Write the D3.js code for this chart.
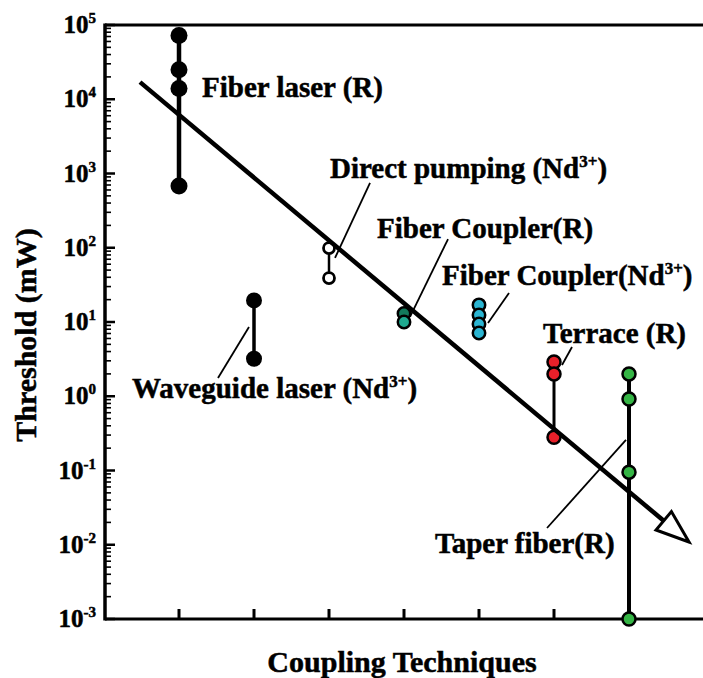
<!DOCTYPE html>
<html>
<head>
	<title>Threshold vs Coupling Techniques</title>
	<script src="https://d3js.org/d3.v7.min.js" charset="utf-8"></script>
	<style>
		body { margin: 0; background: #fff; }
		text { font-family: "Liberation Serif", "Times New Roman", "DejaVu Serif", serif; font-weight: bold; fill: #000; stroke: #000; stroke-width: 0.5; }
	</style>
</head>
<body>
	<svg width="703" height="678"></svg>
	<script>
		// categories along x (index 0..6)
		const categories = ["Fiber laser (R)", "Waveguide laser (Nd3+)", "Direct pumping (Nd3+)",
			"Fiber Coupler(R)", "Fiber Coupler(Nd3+)", "Terrace (R)", "Taper fiber(R)"];

		// threshold values in mW
		const fiberLaser = [72000, 25000, 14000, 680];
		const waveguide = [19.5, 3.2];
		const directPumping = [99, 39];
		const couplerR = [13, 10];
		const couplerNd = [17, 12.4, 9.4, 7.1];
		const terrace = [2.9, 2.0, 0.28];
		const taperFiber = [2.0, 0.92, 0.095, 0.001];

		const yTickExps = [5, 4, 3, 2, 1, 0, -1, -2, -3];

		// trend line end points (category index, mW)
		const trend = [[-0.52, 17000], [6.8, 0.0109]];

		// label anchors (category index, mW) and leader lines
		const labels = [
			{ text: "Fiber laser (R)", sup: null, at: [0.307, 10700] },
			{ text: "Waveguide laser (Nd", sup: "3+", tail: ")", at: [-0.627, 0.946] },
			{ text: "Direct pumping (Nd", sup: "3+", tail: ")", at: [2.013, 869] },
			{ text: "Fiber Coupler(R)", sup: null, at: [2.64, 135] },
			{ text: "Fiber Coupler(Nd", sup: "3+", tail: ")", at: [3.507, 31.5] },
			{ text: "Terrace (R)", sup: null, at: [4.853, 5.2] },
			{ text: "Taper fiber(R)", sup: null, at: [3.413, 0.0077] }
		];
		const leaders = [
			[[0.933, 8.57], [0.52, 1.76]],
			[[2.547, 745], [2.08, 72.8]],
			[[3.587, 131], [3.08, 11.7]],
			[[4.4, 24.6], [4.12, 9.7]],
			[[5.24, 4.6], [5.107, 2.64]],
			[[5.96, 0.258], [4.907, 0.0168]]
		];

		const series = [
			{ idx: 0, vals: fiberLaser, fill: ["#000", "#000", "#000", "#000"], r: 8.5, lw: 4.5 },
			{ idx: 1, vals: waveguide, fill: ["#000", "#000"], r: 8, lw: 3.5 },
			{ idx: 2, vals: directPumping, fill: ["#fff", "#fff"], r: 5.5, lw: 2.5, sw: 2.8 },
			{ idx: 3, vals: couplerR, fill: ["#137a5c", "#1fa98f"], r: 6.2, lw: 0, sw: 2.5 },
			{ idx: 4, vals: couplerNd, fill: ["#2bb5d2", "#2bb5d2", "#2bb5d2", "#2bb5d2"], r: 6.2, lw: 0, sw: 2.5 },
			{ idx: 5, vals: terrace, fill: ["#e8202a", "#e8202a", "#e8202a"], r: 6.5, lw: 3, sw: 2.5 },
			{ idx: 6, vals: taperFiber, fill: ["#35b545", "#35b545", "#35b545", "#35b545"], r: 6.5, lw: 4, sw: 2.5 }
		];

		const svg = d3.select("svg");

		const x = d3.scaleLinear().domain([-1, 7]).range([104, 704]);
		const y = d3.scaleLog().domain([1e-3, 1e5]).range([619, 25]);
		const sx = d => x(d[0]), sy = d => y(d[1]);

		// minor ticks on the left axis
		const minors = [];
		for (let e = -3; e < 5; e++) for (let m = 2; m <= 9; m++) minors.push(m * Math.pow(10, e));

		svg.append("g").selectAll("line").data(minors).join("line")
			.attr("x1", 105).attr("x2", 111)
			.attr("y1", d => y(d)).attr("y2", d => y(d))
			.attr("stroke", "#000").attr("stroke-width", 1.6);

		svg.append("g").selectAll("line").data(yTickExps).join("line")
			.attr("x1", 105).attr("x2", 115)
			.attr("y1", d => y(Math.pow(10, d))).attr("y2", d => y(Math.pow(10, d)))
			.attr("stroke", "#000").attr("stroke-width", 2.5);

		// x ticks
		svg.append("g").selectAll("line").data(d3.range(categories.length)).join("line")
			.attr("x1", d => x(d)).attr("x2", d => x(d))
			.attr("y1", y(1e-3)).attr("y2", y(1e-3) - 10)
			.attr("stroke", "#000").attr("stroke-width", 3);

		// frame
		svg.append("line").attr("x1", 105).attr("x2", 703).attr("y1", y(1e5)).attr("y2", y(1e5))
			.attr("stroke", "#000").attr("stroke-width", 3);
		svg.append("line").attr("x1", 105).attr("x2", 703).attr("y1", y(1e-3)).attr("y2", y(1e-3))
			.attr("stroke", "#000").attr("stroke-width", 3);
		svg.append("line").attr("x1", 105).attr("x2", 105).attr("y1", y(1e5) - 1.5).attr("y2", y(1e-3) + 1.5)
			.attr("stroke", "#000").attr("stroke-width", 3.5);

		// tick labels
		const tl = svg.append("g").selectAll("text").data(yTickExps).join("text")
			.attr("x", 96).attr("y", d => y(Math.pow(10, d)) + 8)
			.attr("text-anchor", "end");
		tl.append("tspan").attr("font-size", 25).text("10");
		tl.append("tspan").attr("font-size", 15).attr("dy", -10).text(d => d);

		// axis titles
		svg.append("text").attr("transform", "translate(36,335) rotate(-90)")
			.attr("text-anchor", "middle").attr("font-size", 30).text("Threshold (mW)");
		svg.append("text").attr("x", 402).attr("y", 672)
			.attr("text-anchor", "middle").attr("font-size", 30).text("Coupling Techniques");

		// vertical connectors
		svg.append("g").selectAll("line").data(series.filter(s => s.lw > 0)).join("line")
			.attr("x1", s => x(s.idx)).attr("x2", s => x(s.idx))
			.attr("y1", s => y(d3.max(s.vals))).attr("y2", s => y(d3.min(s.vals)))
			.attr("stroke", "#000").attr("stroke-width", s => s.lw);

		// points
		series.forEach(s => {
			svg.append("g").selectAll("circle").data(s.vals).join("circle")
				.attr("cx", x(s.idx)).attr("cy", d => y(d))
				.attr("r", s.r)
				.attr("fill", (d, i) => s.fill[i])
				.attr("stroke", "#000").attr("stroke-width", s.sw || 0);
		});

		// leader lines
		svg.append("g").selectAll("line").data(leaders).join("line")
			.attr("x1", d => sx(d[0])).attr("y1", d => sy(d[0]))
			.attr("x2", d => sx(d[1])).attr("y2", d => sy(d[1]))
			.attr("stroke", "#000").attr("stroke-width", 1.8);

		// trend arrow
		const p0 = [sx(trend[0]), sy(trend[0])], p1 = [sx(trend[1]), sy(trend[1])];
		const len = Math.hypot(p1[0] - p0[0], p1[1] - p0[1]);
		const u = [(p1[0] - p0[0]) / len, (p1[1] - p0[1]) / len], n = [-u[1], u[0]];
		const headL = 33, headW = 12;
		const base = [p1[0] - u[0] * headL, p1[1] - u[1] * headL];
		svg.append("line").attr("x1", p0[0]).attr("y1", p0[1]).attr("x2", base[0]).attr("y2", base[1])
			.attr("stroke", "#000").attr("stroke-width", 4.5);
		svg.append("polygon")
			.attr("points", [p1, [base[0] + n[0] * headW, base[1] + n[1] * headW], [base[0] - n[0] * headW, base[1] - n[1] * headW]].map(p => p.join(",")).join(" "))
			.attr("fill", "#fff").attr("stroke", "#000").attr("stroke-width", 3).attr("stroke-linejoin", "miter");

		// labels
		const lab = svg.append("g").selectAll("text").data(labels).join("text")
			.attr("x", d => sx(d.at)).attr("y", d => sy(d.at)).attr("font-size", 29);
		lab.append("tspan").text(d => d.text);
		lab.filter(d => d.sup).append("tspan").attr("font-size", 17).attr("dy", -11).text(d => d.sup);
		lab.filter(d => d.sup).append("tspan").attr("dy", 11).text(d => d.tail);
	</script>
</body>
</html>
